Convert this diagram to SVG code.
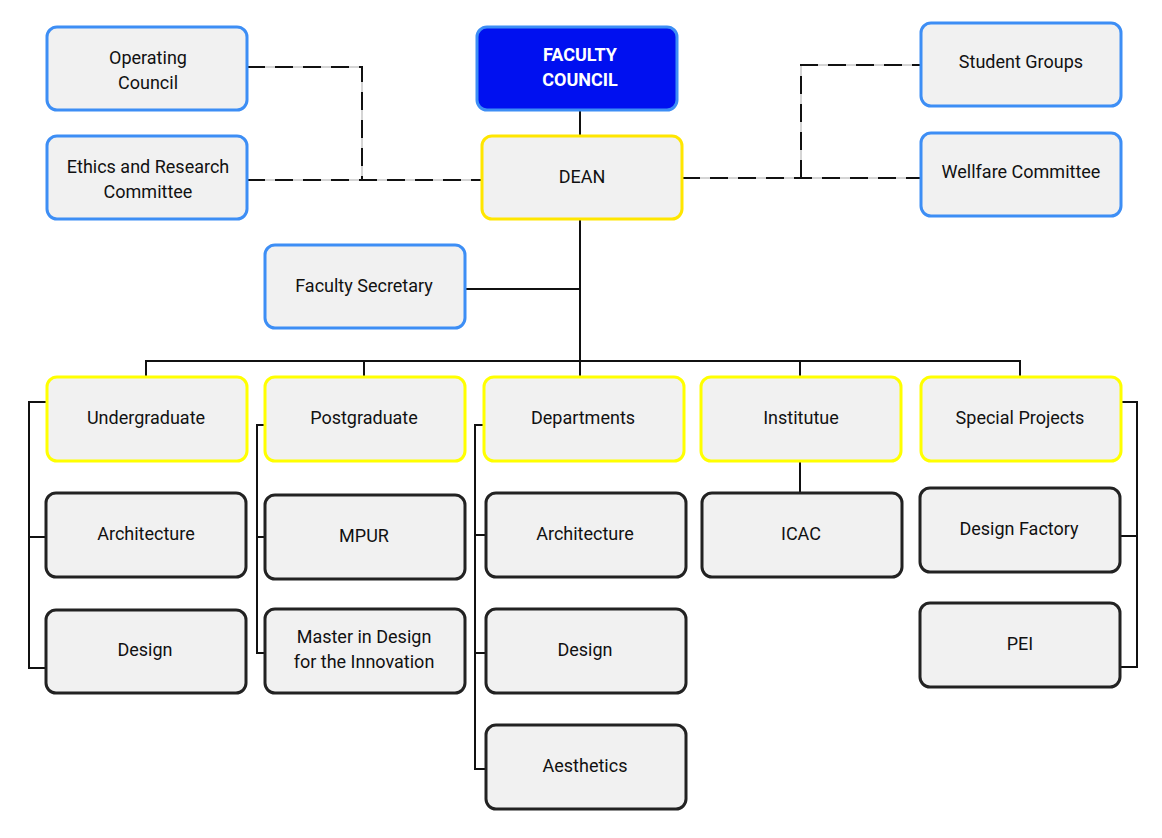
<svg xmlns="http://www.w3.org/2000/svg" width="1162" height="838" viewBox="0 0 1162 838">
<style>
.box{fill:#f1f1f1;stroke-width:3}
.blue{stroke:#3d8ef5}
.yel{stroke:#ffe600}
.yel2{stroke:#ffff00}
.dark{stroke:#222222}
.fc{fill:#0010f0;stroke:#3d8ef5;stroke-width:3}
text{font-family:Roboto,"Liberation Sans",sans-serif;font-size:18px;fill:#111;text-anchor:middle}
.w{fill:#ffffff;font-weight:bold}
.ln{fill:none;stroke:#111;stroke-width:2}
.thin{fill:none;stroke:#aaaaaa;stroke-width:1}
.dash{fill:none;stroke:#111;stroke-width:2;stroke-dasharray:18 10}
</style>
<rect width="1162" height="838" fill="#ffffff"/>
<g id="connectors">
<path class="ln" d="M580 110V136M580 219V361M465 289H580M146 377V361H1020V377M364 361V377M800 361V377M580 361V377"/>
<path class="thin" d="M247 67H362V180M247 180H482M682 178H921M801 178V65H921"/>
<path class="dash" d="M247 67H362V180"/>
<path class="dash" d="M247 180H482"/>
<path class="dash" d="M682 178H921"/>
<path class="dash" d="M801 178V65H921"/>
<path class="ln" d="M47 402H29V668H46M29 537H46"/>
<path class="ln" d="M265 425H257V653H265M257 537H265"/>
<path class="ln" d="M484 425H475V769H486M475 535H486M475 653H486"/>
<path class="ln" d="M800 461V493"/>
<path class="ln" d="M1121 402H1137V667H1120M1137 536H1120"/>
</g>
<g id="operating-council"><rect class="box blue" x="47" y="27" width="200" height="83" rx="10"/><text x="148" y="64">Operating</text><text x="148" y="89">Council</text></g>
<g id="ethics"><rect class="box blue" x="47" y="136" width="200" height="83" rx="10"/><text x="148" y="173">Ethics and Research</text><text x="148" y="198">Committee</text></g>
<g id="faculty-council"><rect class="fc" x="477" y="27" width="200" height="83" rx="10"/><text class="w" x="580" y="61">FACULTY</text><text class="w" x="580" y="86">COUNCIL</text></g>
<g id="dean"><rect class="box yel" x="482" y="136" width="200" height="83" rx="10"/><text x="582" y="183">DEAN</text></g>
<g id="student-groups"><rect class="box blue" x="921" y="23" width="200" height="83" rx="10"/><text x="1021" y="68">Student Groups</text></g>
<g id="wellfare"><rect class="box blue" x="921" y="133" width="200" height="83" rx="10"/><text x="1021" y="178">Wellfare Committee</text></g>
<g id="faculty-secretary"><rect class="box blue" x="265" y="245" width="200" height="83" rx="10"/><text x="364" y="292">Faculty Secretary</text></g>
<g id="undergraduate"><rect class="box yel2" x="47" y="377" width="200" height="84" rx="10"/><text x="146" y="424">Undergraduate</text></g>
<g id="postgraduate"><rect class="box yel2" x="265" y="377" width="200" height="84" rx="10"/><text x="364" y="424">Postgraduate</text></g>
<g id="departments"><rect class="box yel2" x="484" y="377" width="200" height="84" rx="10"/><text x="583" y="424">Departments</text></g>
<g id="institutue"><rect class="box yel2" x="701" y="377" width="200" height="84" rx="10"/><text x="801" y="424">Institutue</text></g>
<g id="special-projects"><rect class="box yel2" x="921" y="377" width="200" height="84" rx="10"/><text x="1020" y="424">Special Projects</text></g>
<g id="ug-architecture"><rect class="box dark" x="46" y="493" width="200" height="84" rx="10"/><text x="146" y="540">Architecture</text></g>
<g id="ug-design"><rect class="box dark" x="46" y="610" width="200" height="83" rx="10"/><text x="145" y="656">Design</text></g>
<g id="mpur"><rect class="box dark" x="265" y="495" width="200" height="84" rx="10"/><text x="364" y="542">MPUR</text></g>
<g id="master-design"><rect class="box dark" x="265" y="609" width="200" height="84" rx="10"/><text x="364" y="643">Master in Design</text><text x="364" y="668">for the Innovation</text></g>
<g id="dep-architecture"><rect class="box dark" x="486" y="493" width="200" height="84" rx="10"/><text x="585" y="540">Architecture</text></g>
<g id="dep-design"><rect class="box dark" x="486" y="609" width="200" height="84" rx="10"/><text x="585" y="656">Design</text></g>
<g id="aesthetics"><rect class="box dark" x="486" y="725" width="200" height="84" rx="10"/><text x="585" y="772">Aesthetics</text></g>
<g id="icac"><rect class="box dark" x="702" y="493" width="200" height="84" rx="10"/><text x="801" y="540">ICAC</text></g>
<g id="design-factory"><rect class="box dark" x="920" y="488" width="200" height="84" rx="10"/><text x="1019" y="535">Design Factory</text></g>
<g id="pei"><rect class="box dark" x="920" y="603" width="200" height="84" rx="10"/><text x="1020" y="650">PEI</text></g>
</svg>
